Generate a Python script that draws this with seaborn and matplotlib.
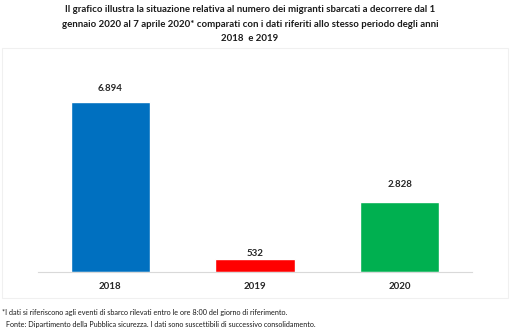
import matplotlib
matplotlib.use("Agg")
import matplotlib.pyplot as plt
import seaborn as sns
import pandas as pd
from matplotlib.patches import Rectangle

years = ["2018", "2019", "2020"]
values = [6894, 532, 2828]
value_labels = ["6.894", "532", "2.828"]
colors = ["#0070C0", "#FF0000", "#00B050"]
label_offsets_pt = [6.8, 0.3, 9.7]

title = ("Il grafico illustra la situazione relativa al numero dei migranti sbarcati a decorrere dal 1\n"
         "gennaio 2020 al 7 aprile 2020* comparati con i dati riferiti allo stesso periodo degli anni\n"
         "2018  e 2019")
note1 = "*I dati si riferiscono agli eventi di sbarco rilevati entro le ore 8:00 del giorno di riferimento."
note2 = "Fonte: Dipartimento della Pubblica sicurezza. I dati sono suscettibili di successivo consolidamento."

sns.set_theme(style="white")
plt.rcParams['font.family'] = ['Lato', 'DejaVu Sans']

df = pd.DataFrame({"year": years, "value": values})

fig = plt.figure(figsize=(5.11, 3.35), dpi=100)
W, H = 511, 335
ax = fig.add_axes([38 / W, (H - 272) / H, (472 - 38) / W, (272 - 80) / H])

sns.barplot(data=df, x="year", y="value", hue="year", palette=colors,
            width=0.55, ax=ax, legend=False, saturation=1)

ax.set_xlim(-0.5, 2.5)
ax.set_ylim(0, 7786)
for s in ["top", "right", "left"]:
    ax.spines[s].set_visible(False)
ax.spines["bottom"].set_color("#d9d9d9")
ax.spines["bottom"].set_linewidth(0.8)
ax.set_yticks([])
ax.set_xlabel("")
ax.set_ylabel("")
ax.tick_params(axis="x", length=0, pad=7)
for lab in ax.get_xticklabels():
    lab.set_fontsize(7)
    lab.set_fontweight("bold")
    lab.set_color("#262626")

for i, (v, t, off) in enumerate(zip(values, value_labels, label_offsets_pt)):
    ax.annotate(t, (i, v), xytext=(0, off), textcoords="offset points",
                ha="center", va="bottom", fontsize=7, fontweight="bold", color="#262626")

fig.text(250 / W, 1 - 5 / H, title, ha="center", va="top", fontsize=6.9,
         fontweight="bold", color="#1a1a1a", linespacing=1.8)

fig.patches.append(Rectangle((2 / W, (H - 298) / H), 506 / W, 250 / H,
                             transform=fig.transFigure, fill=False,
                             edgecolor="#f0f0f0", linewidth=0.8))

fig.text(2 / W, 1 - 312 / H, note1, ha="left", va="center", fontsize=5.2, color="#1a1a1a")
fig.text(6 / W, 1 - 325 / H, note2, ha="left", va="center", fontsize=5.2, color="#1a1a1a")

fig.savefig("out.png", dpi=100)
